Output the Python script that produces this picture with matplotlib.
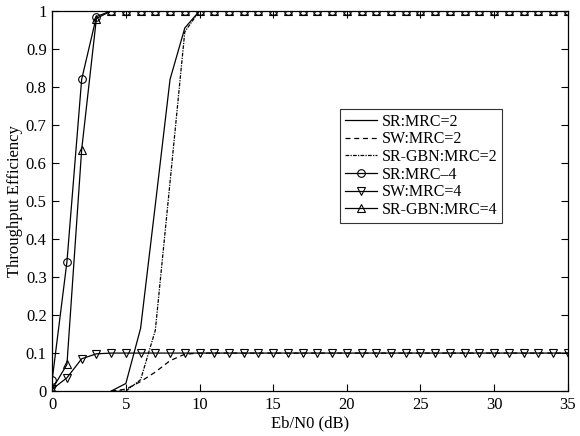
import numpy as np
import matplotlib.pyplot as plt

plt.rcParams['font.family'] = ['Liberation Serif', 'DejaVu Serif']

# -------------------------------
# Données
# -------------------------------
snr = np.arange(0, 36)  # Eb/N0 (dB)

sr2_head = [0, 0, 0, 0, 0, 0.02, 0.165, 0.49, 0.82, 0.955, 1.0]
sw2_head = [0, 0, 0, 0, 0, 0.005, 0.025, 0.05, 0.08, 0.097, 0.1]
gbn2_head = [0, 0, 0, 0, 0, 0.0, 0.03, 0.16, 0.55, 0.945, 1.0]
sr4_head = [0.03, 0.34, 0.82, 0.985, 1.0]
sw4_head = [0.005, 0.035, 0.085, 0.098, 0.1]
gbn4_head = [0.005, 0.07, 0.635, 0.98, 1.0]

sr2 = sr2_head + [1.0] * (36 - len(sr2_head))
sw2 = sw2_head + [0.1] * (36 - len(sw2_head))
gbn2 = gbn2_head + [1.0] * (36 - len(gbn2_head))
sr4 = sr4_head + [1.0] * (36 - len(sr4_head))
sw4 = sw4_head + [0.1] * (36 - len(sw4_head))
gbn4 = gbn4_head + [1.0] * (36 - len(gbn4_head))

# les courbes MRC=2 commencent à 4 dB
start2 = 4

fig = plt.figure(figsize=(5.8, 4.36), dpi=100)
ax = fig.add_axes([0.09, 0.103, 0.889, 0.872])

lw = 0.9
mk = dict(markersize=5.5, markerfacecolor='none', markeredgecolor='black', markeredgewidth=0.8)

ax.plot(snr[start2:], sr2[start2:], '-', color='black', lw=lw, label='SR:MRC=2')
ax.plot(snr[start2:], sw2[start2:], '--', color='black', lw=lw, dashes=(4, 3), label='SW:MRC=2')
ax.plot(snr[start2:], gbn2[start2:], '-.', color='black', lw=lw, dashes=(3, 1, 1, 1), label='SR-GBN:MRC=2')
ax.plot(snr, sr4, '-', color='black', lw=lw, marker='o', label='SR:MRC–4', **mk)
ax.plot(snr, sw4, '-', color='black', lw=lw, marker='v', label='SW:MRC=4', **mk)
ax.plot(snr, gbn4, '-', color='black', lw=lw, marker='^', label='SR-GBN:MRC=4', **mk)

ax.set_xlim(0, 35)
ax.set_ylim(0, 1)
ax.set_xticks(np.arange(0, 36, 5))
ax.set_yticks(np.arange(0, 1.01, 0.1))
ax.set_yticklabels(['0', '0.1', '0.2', '0.3', '0.4', '0.5', '0.6', '0.7', '0.8', '0.9', '1'])
ax.tick_params(direction='in', top=True, right=True, labelsize=12, length=5, width=0.8, pad=4)
for s in ax.spines.values():
    s.set_linewidth(0.9)

ax.set_xlabel('Eb/N0 (dB)', fontsize=12, labelpad=2)
ax.set_ylabel('Throughput Efficiency', fontsize=12, labelpad=2)

leg = ax.legend(loc='upper left', bbox_to_anchor=(0.558, 0.742), fontsize=11.5, frameon=True,
                fancybox=False, edgecolor='black', borderpad=0.3, labelspacing=0.1,
                handlelength=2.0, handletextpad=0.3, borderaxespad=0)
leg.get_frame().set_linewidth(0.8)

plt.savefig('out.png', dpi=100)
